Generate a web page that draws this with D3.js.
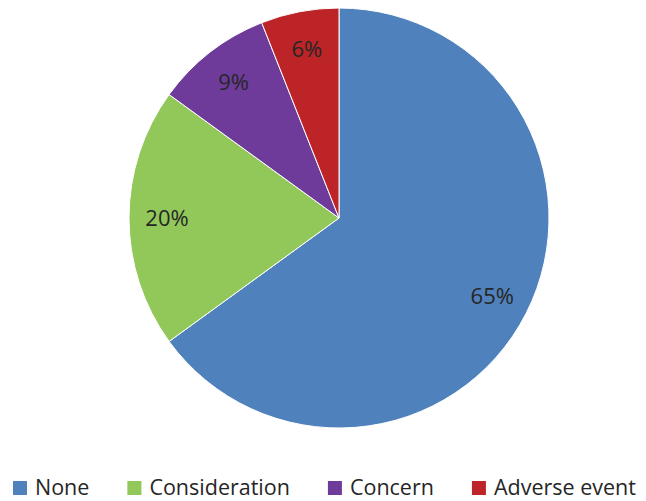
<!DOCTYPE html>
<html><head><meta charset="utf-8">
<script src="https://cdn.jsdelivr.net/npm/d3@7"></script>
<style>html,body{margin:0;padding:0;background:#fff;}svg{display:block;}</style>
</head><body>
<svg id="chart" width="646" height="501"></svg>
<script>
const categories = ["None", "Consideration", "Concern", "Adverse event"];
const values = [65, 20, 9, 6];
const labels = ["65%", "20%", "9%", "6%"];
const colors = ["#4F81BD", "#92C85A", "#6E3B9A", "#BC2427"];

const svg = d3.select("#chart");
const cx = 339, cy = 218, R = 210;
const font = "'Open Sans', sans-serif";

const data = categories.map((c, i) => ({cat: c, value: values[i], label: labels[i], color: colors[i]}));
const pie = d3.pie().value(d => d.value).sort(null);
const arcs = pie(data);
const arc = d3.arc().innerRadius(0).outerRadius(R);
const labelArc = d3.arc().innerRadius(172).outerRadius(172);

const g = svg.append("g").attr("transform", `translate(${cx},${cy})`);
g.selectAll("path.slice").data(arcs).join("path")
  .attr("class", "slice")
  .attr("d", arc)
  .attr("fill", d => d.data.color)
  .attr("stroke", "#fff")
  .attr("stroke-width", 1);

g.selectAll("text.lbl").data(arcs).join("text")
  .attr("class", "lbl")
  .attr("transform", d => `translate(${labelArc.centroid(d)})`)
  .attr("text-anchor", "middle")
  .attr("dy", "0.35em")
  .attr("font-family", font)
  .attr("font-size", 22)
  .attr("fill", "#262626")
  .text(d => d.data.label);

// Legend
const leg = svg.append("g");
const items = leg.selectAll("g.item").data(data).join("g").attr("class", "item");
items.append("rect").attr("width", 14).attr("height", 14).attr("y", -14).attr("fill", d => d.color);
items.append("text").attr("x", 22).attr("y", 0).attr("font-family", font).attr("font-size", 21.5)
  .attr("fill", "#262626").text(d => d.cat);
let x = 13;
const gap = 38;
items.each(function() {
  const t = d3.select(this).select("text").node();
  d3.select(this).attr("transform", `translate(${x},${495})`);
  x += 22 + t.getComputedTextLength() + gap;
});
</script>
</body></html>
